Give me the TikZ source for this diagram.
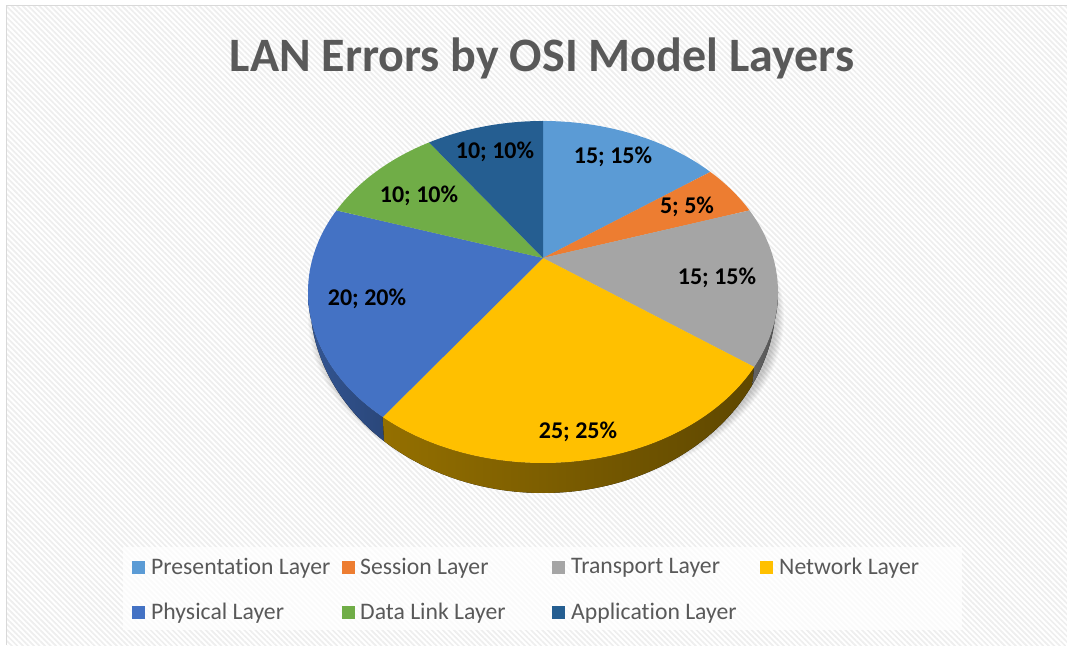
\documentclass[tikz,border=0pt]{standalone}
\usepackage{fontspec}
\setmainfont[Ligatures=NoCommon]{Carlito}
\usetikzlibrary{patterns.meta,calc}
\definecolor{cPres}{HTML}{5B9BD5}
\definecolor{cSess}{HTML}{ED7D31}
\definecolor{cTrans}{HTML}{A5A5A5}
\definecolor{cNet}{HTML}{FFC000}
\definecolor{cPhys}{HTML}{4472C4}
\definecolor{cData}{HTML}{70AD47}
\definecolor{cApp}{HTML}{255E91}
\definecolor{txtgray}{HTML}{595959}
\definecolor{bordergray}{HTML}{D9D9D9}
\definecolor{hatch}{HTML}{EEEEEE}
\tikzset{
  lbl/.style={inner sep=0pt, font=\fontsize{24}{28}\selectfont\bfseries, text=black},
  legtext/.style={inner sep=0pt, anchor=west, font=\fontsize{23.7}{28}\selectfont, text=txtgray},
  legkey/.style={minimum width=13pt, minimum height=13pt, inner sep=0pt},
}
\begin{document}
\begin{tikzpicture}[x=1pt,y=1pt]
\useasboundingbox (0,0) rectangle (1067,645);
\fill[white] (0,0) rectangle (1067,645);
\fill[pattern={Lines[angle=-45,distance=3.9pt,line width=1.7pt]}, pattern color=hatch] (7,0) rectangle (1067,639.5);
\draw[bordergray, line width=1.5pt] (6.5,0) -- (6.5,639.5) -- (1067,639.5);

% title
\node[inner sep=0pt, anchor=base, font=\fontsize{48}{58}\selectfont\bfseries, text=txtgray] (title) at (542,573) {LAN Errors by OSI Model Layers};

% geometry
\coordinate (C) at (543,353);   % top ellipse centre
\coordinate (A) at (543,387);   % apex
\coordinate (D) at (543,345);   % bottom ellipse centre

% soft shadow
\foreach \k in {1,...,9}
  \fill[black, opacity=0.022] (546,328) ellipse[x radius=229+\k, y radius=164+\k];

% sides
\fill[left color=cPhys!75!black, right color=cPhys!62!black]
  ($(C)+(-180:235 and 171)$) arc[start angle=-180, end angle=-133, x radius=235, y radius=171]
  -- ($(D)+(-133:233 and 193)$) arc[start angle=-133, end angle=-180, x radius=233, y radius=193] -- cycle;
\fill[left color=cNet!58!black, middle color=cNet!42!black, right color=cNet!37!black]
  ($(C)+(-133:235 and 171)$) arc[start angle=-133, end angle=-26, x radius=235, y radius=171]
  -- ($(D)+(-26:233 and 193)$) arc[start angle=-26, end angle=-133, x radius=233, y radius=193] -- cycle;
\fill[left color=cTrans!60!black, right color=cTrans!50!black]
  ($(C)+(-26:235 and 171)$) arc[start angle=-26, end angle=0, x radius=235, y radius=171]
  -- ($(D)+(0:233 and 193)$) arc[start angle=0, end angle=-26, x radius=233, y radius=193] -- cycle;

% top faces
\fill[cPres] (A) -- ($(C)+(90:235 and 171)$) arc[start angle=90, end angle=44.6, x radius=235, y radius=171] -- cycle;
\fill[cSess] (A) -- ($(C)+(44.6:235 and 171)$) arc[start angle=44.6, end angle=28.5, x radius=235, y radius=171] -- cycle;
\fill[cTrans] (A) -- ($(C)+(28.5:235 and 171)$) arc[start angle=28.5, end angle=-26, x radius=235, y radius=171] -- cycle;
\fill[cNet] (A) -- ($(C)+(-26:235 and 171)$) arc[start angle=-26, end angle=-133, x radius=235, y radius=171] -- cycle;
\fill[cPhys] (A) -- ($(C)+(-133:235 and 171)$) arc[start angle=-133, end angle=-208.5, x radius=235, y radius=171] -- cycle;
\fill[cData] (A) -- ($(C)+(-208.5:235 and 171)$) arc[start angle=-208.5, end angle=-241, x radius=235, y radius=171] -- cycle;
\fill[cApp] (A) -- ($(C)+(-241:235 and 171)$) arc[start angle=-241, end angle=-270, x radius=235, y radius=171] -- cycle;

% data labels
\node[lbl] (lPres) at (613,488) {15; 15\%};
\node[lbl] (lSess) at (687,438) {5; 5\%};
\node[lbl] (lTrans) at (717,367) {15; 15\%};
\node[lbl] (lNet) at (578,213) {25; 25\%};
\node[lbl] (lPhys) at (367,346) {20; 20\%};
\node[lbl] (lData) at (419,449) {10; 10\%};
\node[lbl] (lApp) at (495,493) {10; 10\%};

% legend
\fill[white, opacity=0.75] (123,15) rectangle (962,98);
\node[legkey, fill=cPres] (kPres) at (138.5,78) {};
\node[legtext] (tPres) at (151,77) {Presentation Layer};
\node[legkey, fill=cSess] (kSess) at (348.5,78) {};
\node[legtext] (tSess) at (360,77) {Session Layer};
\node[legkey, fill=cTrans] (kTrans) at (558.5,78) {};
\node[legtext] (tTrans) at (571,77) {Transport Layer};
\node[legkey, fill=cNet] (kNet) at (766.5,78) {};
\node[legtext] (tNet) at (779,77) {Network Layer};
\node[legkey, fill=cPhys] (kPhys) at (138.5,33) {};
\node[legtext] (tPhys) at (151,32) {Physical Layer};
\node[legkey, fill=cData] (kData) at (348.5,33) {};
\node[legtext] (tData) at (360,32) {Data Link Layer};
\node[legkey, fill=cApp] (kApp) at (558.5,33) {};
\node[legtext] (tApp) at (571,32) {Application Layer};
\end{tikzpicture}
\end{document}
